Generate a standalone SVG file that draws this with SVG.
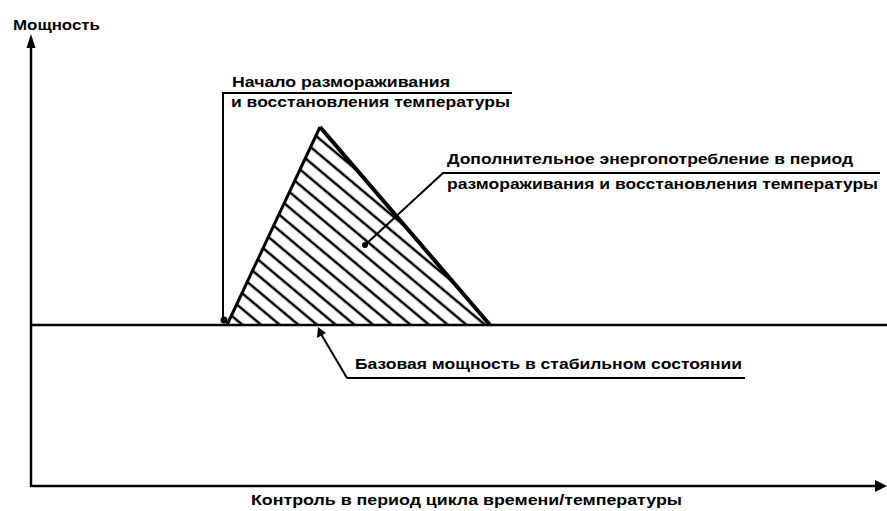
<svg xmlns="http://www.w3.org/2000/svg" width="887" height="511" viewBox="0 0 887 511">
<style>
text{font-family:"Liberation Sans",Arial,sans-serif;font-weight:bold;font-size:15px;fill:#000}
.ln{stroke:#000;stroke-width:2;fill:none}
.ax{stroke:#000;stroke-width:2.5;fill:none}
</style>
<defs>
<pattern id="hatch" width="12" height="12" patternUnits="userSpaceOnUse" patternTransform="rotate(40) translate(0,3)">
<line x1="-1" y1="6" x2="13" y2="6" stroke="#000" stroke-width="2.5"/>
</pattern>
</defs>
<rect width="887" height="511" fill="#fff"/>

<g id="axes">
<line class="ax" x1="31" y1="487" x2="31" y2="46"/>
<path d="M31,34 L26.5,48 L35.5,48 Z" fill="#000"/>
<line class="ax" x1="30" y1="486" x2="876" y2="486"/>
<path d="M887,486 L875,480 L875,492 Z" fill="#000"/>
<text x="13" y="30" textLength="87" lengthAdjust="spacingAndGlyphs">Мощность</text>
<text x="251" y="505" textLength="431" lengthAdjust="spacingAndGlyphs">Контроль в период цикла времени/температуры</text>
</g>

<g id="baseline">
<line class="ax" x1="31" y1="325" x2="887" y2="325"/>
</g>

<g id="triangle">
<polygon points="227,325 320,127 490,325" fill="url(#hatch)"/>
<line x1="227" y1="325" x2="320" y2="127" stroke="#000" stroke-width="3"/>
<line x1="320" y1="127" x2="490" y2="325" stroke="#000" stroke-width="4"/>
</g>

<g id="connectors">
<polyline class="ln" points="223,322 223,93 512,93"/>
<circle cx="224" cy="320" r="3.5" fill="#000"/>
<polyline class="ln" points="365,245 443,173 880,173"/>
<circle cx="365" cy="245" r="3" fill="#000"/>
<polyline class="ln" points="347,378 745,378"/>
<line class="ln" x1="347" y1="378" x2="321" y2="334"/>
<path d="M318,327 L317,338 L326,333 Z" fill="#000"/>
</g>

<g id="label-start">
<text x="232" y="87" textLength="218" lengthAdjust="spacingAndGlyphs">Начало размораживания</text>
<text x="231" y="107" textLength="279" lengthAdjust="spacingAndGlyphs">и восстановления температуры</text>
</g>

<g id="label-extra">
<text x="447" y="164" textLength="406" lengthAdjust="spacingAndGlyphs">Дополнительное энергопотребление в период</text>
<text x="447" y="189" textLength="431" lengthAdjust="spacingAndGlyphs">размораживания и восстановления температуры</text>
</g>

<g id="label-base">
<text x="355" y="369" textLength="387" lengthAdjust="spacingAndGlyphs">Базовая мощность в стабильном состоянии</text>
</g>
</svg>
